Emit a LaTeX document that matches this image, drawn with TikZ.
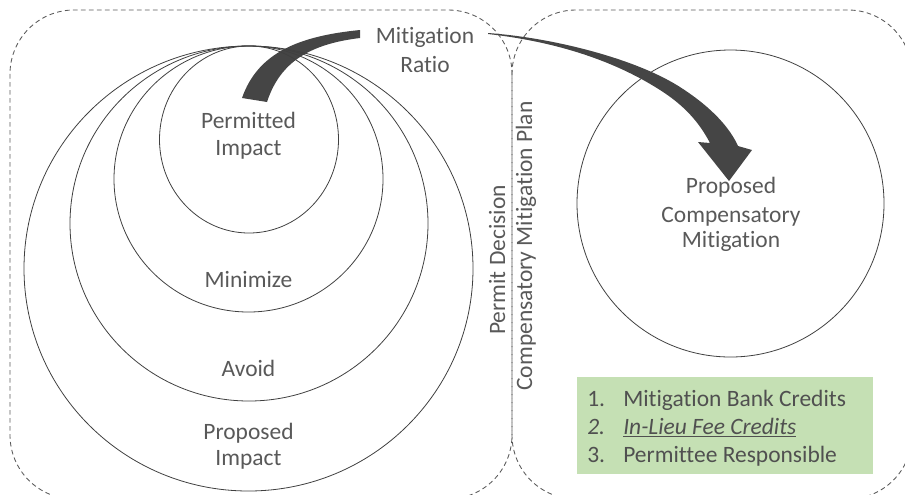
\documentclass[tikz,border=0pt]{standalone}
\usepackage{fontspec}
\setmainfont{Carlito}[Ligatures={NoCommon,NoContextual,NoRequired}]
\definecolor{txtgray}{HTML}{595959}
\definecolor{listgray}{HTML}{505050}
\definecolor{ringgray}{HTML}{404040}
\definecolor{dashgray}{HTML}{5A5A5A}
\definecolor{arrowgray}{HTML}{454545}
\definecolor{listgreen}{HTML}{C5E0B4}
\begin{document}
\begin{tikzpicture}[x=0.75pt,y=-0.75pt,
  lbl/.style={font=\fontsize{17.6}{20}\selectfont, text=txtgray, inner sep=0pt, anchor=base},
  item/.style={font=\fontsize{17.6}{20}\selectfont, text=listgray, inner sep=0pt, anchor=base west},
  ring/.style={draw=ringgray, line width=0.6pt},
  panel/.style={draw=dashgray, line width=0.65pt, dash pattern=on 3.5pt off 2.5pt, rounded corners=48pt},
  band/.style={fill=arrowgray, draw=none}]
\useasboundingbox (0,0) rectangle (905,494);
\clip (0,0) rectangle (905,494);
% panels
\draw[panel] (10,10) rectangle (512,499);
\draw[panel] (512,10) rectangle (912,499);
% band from permitted impact to ratio
\fill[band] (242,98) .. controls (258,52) and (300,36) .. (360,30) -- (360,38)
  .. controls (310,44) and (280,62) .. (267,102) -- cycle;
% nested rings
\draw[ring] (249,139.5) ellipse [x radius=89.5, y radius=93.5];
\draw[ring] (248.5,179) ellipse [x radius=134.5, y radius=133];
\draw[ring] (249,223.5) ellipse [x radius=179, y radius=177.5];
\draw[ring] (248.5,268.5) ellipse [x radius=224.5, y radius=222.5];
% right circle
\draw[ring] (730.5,203.5) ellipse [x radius=153.5, y radius=153.5];
% arrow from ratio to compensatory mitigation
\fill[band] (488,33) .. controls (556,38) and (640,60) .. (683,89)
  .. controls (712,108) and (730,128) .. (738,146) -- (752,150) -- (729,181)
  -- (698,142) -- (710,143) .. controls (698,120) and (682,104) .. (660,90)
  .. controls (610,58) and (550,41) .. (488,34) -- cycle;
% labels
\node[lbl] (mr1) at (425,43) {Mitigation};
\node[lbl] (mr2) at (425,72) {Ratio};
\node[lbl] (pi1) at (248.5,128) {Permitted};
\node[lbl] (pi2) at (248.5,155) {Impact};
\node[lbl] (mn) at (248.5,287) {Minimize};
\node[lbl] (av) at (248.5,376) {Avoid};
\node[lbl] (pr1) at (248.5,439) {Proposed};
\node[lbl] (pr2) at (248.5,465) {Impact};
\node[lbl,rotate=90] (pd) at (505,260) {Permit Decision};
\node[lbl,rotate=90] (cmp) at (532,246) {Compensatory Mitigation Plan};
\node[lbl] (pc1) at (731,193) {Proposed};
\node[lbl] (pc2) at (731,222) {Compensatory};
\node[lbl] (pc3) at (731,247) {Mitigation};
% list box
\fill[listgreen] (577,377) rectangle (873,474);
\node[item] (n1) at (587,406) {1.};
\node[item] (n2) at (587,434) {\textit{2.}};
\node[item] (n3) at (587,462) {3.};
\node[item] (t1) at (623,406) {Mitigation Bank Credits};
\node[item] (t2) at (623,434) {\underline{\textit{In-Lieu Fee Credits}}};
\node[item] (t3) at (623,462) {Permittee Responsible};
\end{tikzpicture}
\end{document}
